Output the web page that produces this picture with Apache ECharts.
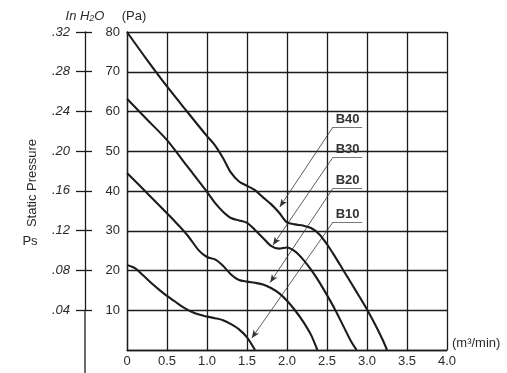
<!DOCTYPE html>
<html>
<head>
<meta charset="utf-8">
<script src="https://cdn.jsdelivr.net/npm/echarts@6/dist/echarts.min.js"></script>
<style>
html,body{margin:0;padding:0;background:#fff;}
#chart{width:507px;height:373px;}
</style>
</head>
<body>
<div id="chart"></div>
<script>
// Airflow (m3/min) vs static pressure (Pa)
const seriesNames = ['B40', 'B30', 'B20', 'B10'];
const b40 = [[0,80],[0.25,73],[0.5,66.3],[0.75,60],[1.0,53.8],[1.1,51.5],[1.2,48.3],[1.3,44.6],[1.4,42.4],[1.5,41.3],[1.6,40.2],[1.7,38.4],[1.8,36.7],[1.9,34.6],[2.0,32.1],[2.1,31.6],[2.2,31.3],[2.3,30.7],[2.4,29.2],[2.5,26.6],[2.6,23.5],[2.7,20.2],[2.8,16.9],[2.9,13.6],[3.0,10.2],[3.1,6.5],[3.2,2.4],[3.25,0]];
const b30 = [[0,63.2],[0.25,58],[0.5,52.8],[0.75,46.3],[1.0,39.8],[1.1,37],[1.2,34.8],[1.3,33.2],[1.4,32.6],[1.5,32],[1.6,30.2],[1.7,28.2],[1.8,26.2],[1.9,25.5],[2.0,25.8],[2.1,24.8],[2.2,22.8],[2.3,20.2],[2.4,17.2],[2.5,13.8],[2.6,10.2],[2.7,6.2],[2.8,2.2],[2.87,0]];
const b20 = [[0,44.5],[0.25,39.5],[0.5,34.4],[0.75,29],[0.9,25],[1.0,23.4],[1.1,22.8],[1.2,21.2],[1.3,19],[1.4,17.6],[1.5,17.2],[1.6,16.9],[1.7,16.5],[1.8,15.6],[1.9,14.3],[2.0,12.4],[2.1,10],[2.2,7.2],[2.3,3.8],[2.38,0]];
const b10 = [[0,21.4],[0.1,20.6],[0.2,18.8],[0.3,16.9],[0.4,15.2],[0.5,13.6],[0.6,12.2],[0.7,10.8],[0.8,9.7],[0.9,8.9],[1.0,8.4],[1.1,8.0],[1.2,7.5],[1.3,6.5],[1.4,5.2],[1.5,3.2],[1.6,0]];
// callout anchors in data units: [label x start, label x end, label y, arrow tip x, arrow tip y]
const callouts = [[2.575,2.94,56.1,1.91,36.0],[2.575,2.94,48.5,1.825,26.4],[2.575,2.94,40.7,1.79,17.0],[2.575,2.94,32.2,1.56,3.0]];
const xTicks = [0,0.5,1.0,1.5,2.0,2.5,3.0,3.5,4.0];
const paTicks = [0,10,20,30,40,50,60,70,80];
const inTicks = [0.04,0.08,0.12,0.16,0.20,0.24,0.28,0.32];

const allData = [b40, b30, b20, b10];
const ink = '#1c1c1c';
const txt = '#2a2a2a';
const font = 'Liberation Sans, Arial, sans-serif';

const series = seriesNames.map((name, i) => {
  const c = callouts[i];
  return {
    name: name,
    type: 'line',
    xAxisIndex: 0,
    yAxisIndex: 0,
    data: allData[i],
    smooth: 0.3,
    symbol: 'none',
    lineStyle: {color: ink, width: 2.1},
    z: 5,
    markLine: {
      silent: true,
      animation: false,
      lineStyle: {color: '#333', width: 0.8, type: 'solid'},
      data: [
        [{coord: [c[0], c[2]], symbol: 'none', lineStyle: {color: '#777', width: 1},
          label: {show: true, position: 'insideMiddleTop', formatter: name, fontFamily: font, fontWeight: 'bold', fontSize: 13, color: '#333', distance: 1}},
         {coord: [c[1], c[2]], symbol: 'none'}],
        [{coord: [c[0], c[2]], symbol: 'none', label: {show: false}},
         {coord: [c[3], c[4]], symbol: 'arrow', symbolSize: [5, 8]}]
      ]
    }
  };
});

const inAxisBase = {
  type: 'value', gridIndex: 1, position: 'left', offset: 42,
  min: inTicks[0], max: inTicks[inTicks.length - 1], interval: 0.04,
  splitLine: {show: false}
};

const chart = echarts.init(document.getElementById('chart'));
chart.setOption({
  animation: false,
  backgroundColor: '#fff',
  grid: [
    {left: 127, top: 32, width: 320, height: 318},
    // inch-of-water scale runs from .04 (10 Pa line) to .32 (80 Pa line)
    {left: 127, top: 32, width: 320, height: 278}
  ],
  xAxis: [
    {
      type: 'value', gridIndex: 0, min: xTicks[0], max: xTicks[xTicks.length - 1], interval: 0.5,
      name: '(m³/min)', nameLocation: 'end', nameGap: 5,
      nameTextStyle: {fontFamily: font, fontSize: 13, color: txt, verticalAlign: 'bottom'},
      axisLine: {show: true, onZero: false, lineStyle: {color: ink, width: 1.3}},
      axisTick: {show: false},
      axisLabel: {margin: 5, fontFamily: font, fontSize: 13, color: txt,
        formatter: v => v === 0 ? '0' : v.toFixed(1)},
      splitLine: {show: true, lineStyle: {color: ink, width: 1.3}}
    },
    {type: 'value', gridIndex: 1, min: 0, max: 4, show: false,
      axisLine: {show: false, onZero: false}, splitLine: {show: false}}
  ],
  yAxis: [
    {
      type: 'value', gridIndex: 0, min: paTicks[0], max: paTicks[paTicks.length - 1], interval: 10,
      name: '(Pa)', nameLocation: 'end', nameGap: 9,
      nameTextStyle: {fontFamily: font, fontSize: 13, color: txt, align: 'center', padding: [0, 0, 0, 14]},
      axisLine: {show: true, onZero: false, lineStyle: {color: ink, width: 1.3}},
      axisTick: {show: false},
      axisLabel: {margin: 7, fontFamily: font, fontSize: 13, color: txt,
        formatter: v => v === 0 ? '' : String(v)},
      splitLine: {show: true, lineStyle: {color: ink, width: 1.3}}
    },
    Object.assign({}, inAxisBase, {
      name: '{i|In H}{s|2}{i|O}', nameLocation: 'end', nameGap: 9,
      nameTextStyle: {
        rich: {
          i: {fontFamily: font, fontSize: 13, fontStyle: 'italic', color: txt},
          s: {fontFamily: font, fontSize: 9, fontStyle: 'italic', color: txt, padding: [5, 0, 0, 0]}
        }
      },
      axisLine: {show: true, onZero: false, lineStyle: {color: ink, width: 1.3}},
      axisTick: {show: true, inside: false, length: 9, lineStyle: {color: ink, width: 1.3}},
      axisLabel: {margin: 15, fontFamily: font, fontSize: 13, fontStyle: 'italic', color: txt,
        formatter: v => v.toFixed(2).replace(/^0/, '')}
    }),
    Object.assign({}, inAxisBase, {
      axisLine: {show: false, onZero: false},
      axisTick: {show: true, inside: true, length: 7, lineStyle: {color: ink, width: 1.3}},
      axisLabel: {show: false}
    })
  ],
  graphic: [
    {type: 'line', shape: {x1: 85, y1: 310, x2: 85, y2: 373}, style: {stroke: ink, lineWidth: 1.3}, silent: true},
    {type: 'text', x: 32, y: 183, rotation: Math.PI / 2,
      style: {text: 'Static Pressure', fontFamily: font, fontSize: 13, fill: txt, align: 'center', verticalAlign: 'middle'}},
    {type: 'text', x: 30, y: 241,
      style: {text: 'Ps', fontFamily: font, fontSize: 13, fill: txt, align: 'center', verticalAlign: 'middle'}}
  ],
  series: series
});
</script>
</body>
</html>
